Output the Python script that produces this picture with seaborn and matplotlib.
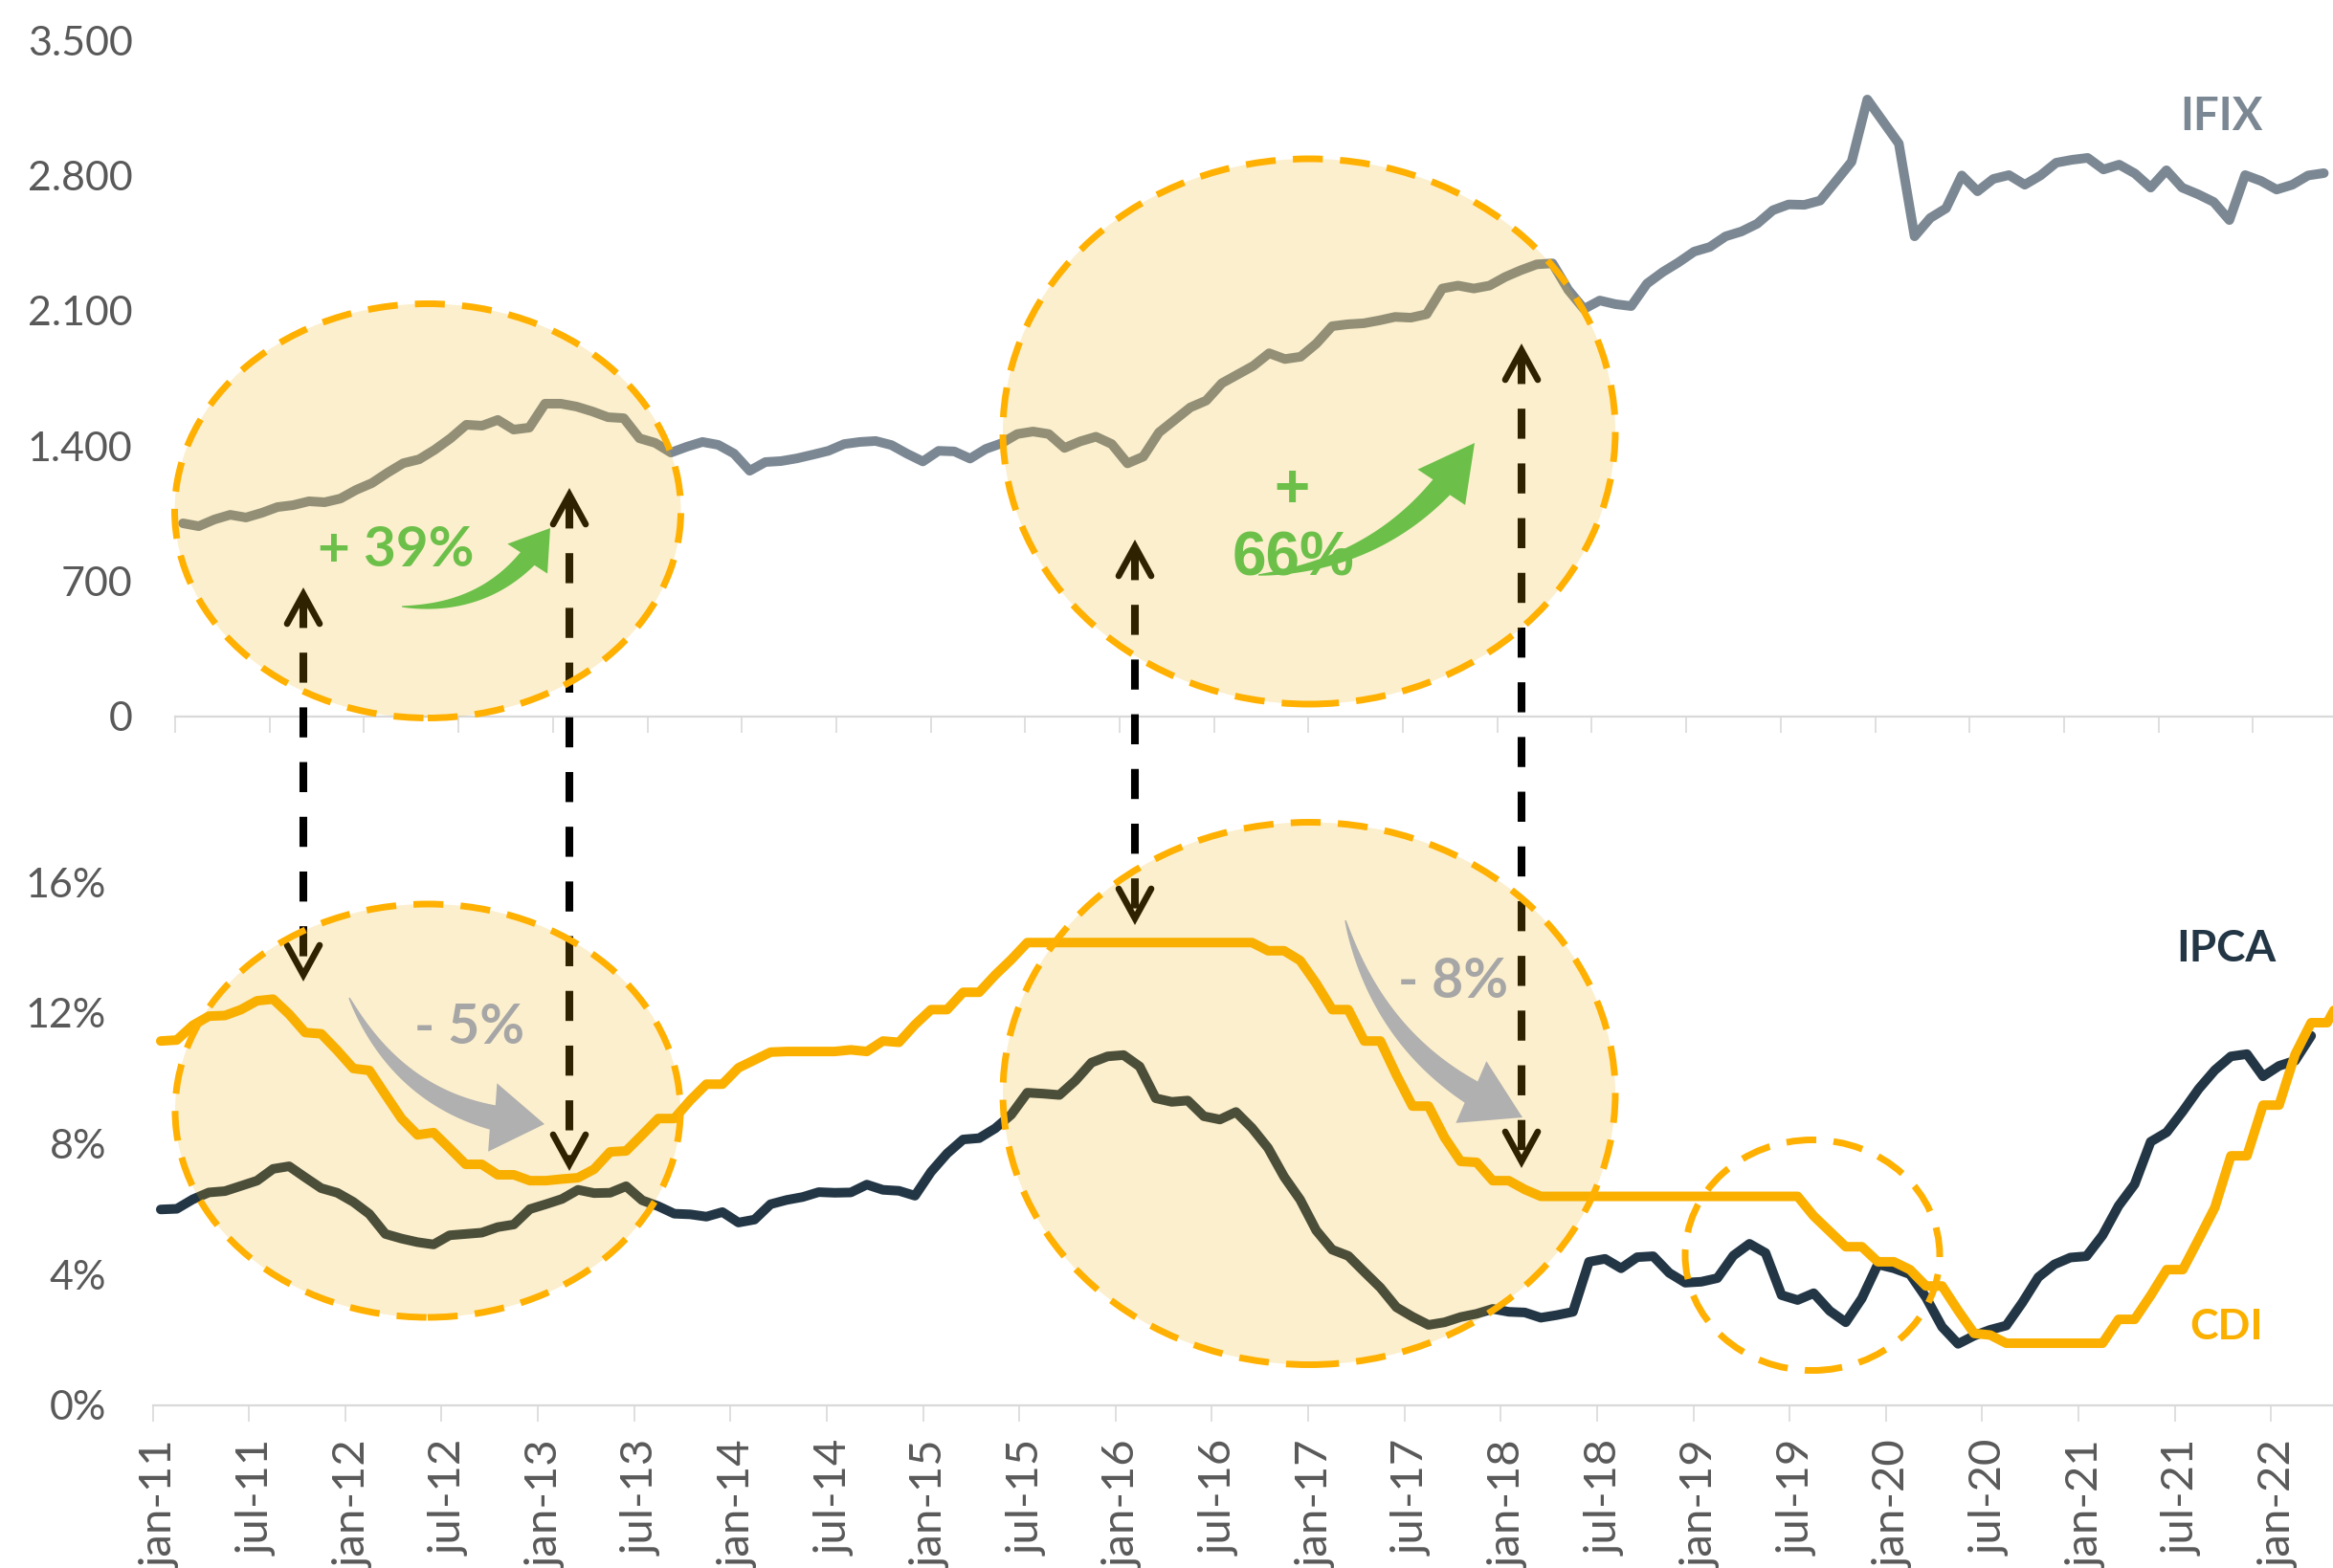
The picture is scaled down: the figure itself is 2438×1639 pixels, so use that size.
import numpy as np
import pandas as pd
import matplotlib
matplotlib.use('Agg')
import matplotlib.pyplot as plt
import seaborn as sns
from matplotlib.patches import Ellipse, Polygon
from matplotlib.lines import Line2D

W, H = 2438, 1639

# ---------------- data (monthly, jan-11 ...) ----------------
ifix = [1000, 985, 1020, 1044, 1030, 1054, 1084, 1094, 1114, 1109, 1128, 1173,
        1208, 1262, 1311, 1331, 1381, 1440, 1510, 1505, 1535, 1485, 1495, 1619,
        1619, 1604, 1579, 1549, 1544, 1440, 1416, 1366, 1396, 1421, 1406, 1361,
        1272, 1317, 1322, 1336, 1355, 1375, 1410, 1421, 1426, 1405, 1360, 1320,
        1375, 1372, 1335, 1385, 1414, 1462, 1475, 1462, 1390, 1424, 1448, 1410,
        1310, 1345, 1470, 1535, 1600, 1635, 1725, 1770, 1815, 1880, 1850, 1862,
        1930, 2020, 2030, 2035, 2050, 2068, 2064, 2082, 2215, 2230, 2215, 2230,
        2275, 2310, 2340, 2345, 2208, 2109, 2153, 2134, 2124, 2240, 2300, 2350,
        2406, 2430, 2485, 2510, 2550, 2620, 2650, 2648, 2670, 2770, 2871, 3193,
        3079, 2965, 2485, 2580, 2630, 2800, 2718, 2782, 2802, 2752, 2800, 2866,
        2881, 2891, 2831, 2856, 2810, 2737, 2827, 2737, 2703, 2663, 2569, 2802,
        2772, 2727, 2752, 2800, 2812]

ipca = [5.99, 6.01, 6.30, 6.51, 6.55, 6.71, 6.87, 7.23, 7.31, 6.97, 6.64, 6.50,
        6.22, 5.85, 5.24, 5.10, 4.99, 4.92, 5.20, 5.24, 5.28, 5.45, 5.53, 6.00,
        6.15, 6.31, 6.59, 6.49, 6.50, 6.70, 6.27, 6.09, 5.86, 5.84, 5.77, 5.91,
        5.59, 5.68, 6.15, 6.28, 6.37, 6.52, 6.50, 6.51, 6.75, 6.59, 6.56, 6.41,
        7.14, 7.70, 8.13, 8.17, 8.47, 8.89, 9.56, 9.53, 9.49, 9.93, 10.48, 10.67,
        10.71, 10.36, 9.39, 9.28, 9.32, 8.84, 8.74, 8.97, 8.48, 7.87, 6.99, 6.29,
        5.35, 4.76, 4.57, 4.08, 3.60, 3.00, 2.71, 2.46, 2.54, 2.70, 2.80, 2.95,
        2.86, 2.84, 2.68, 2.76, 2.86, 4.39, 4.48, 4.19, 4.53, 4.56, 4.05, 3.75,
        3.78, 3.89, 4.58, 4.94, 4.66, 3.37, 3.22, 3.43, 2.89, 2.54, 3.27, 4.31,
        4.19, 4.01, 3.30, 2.40, 1.88, 2.13, 2.31, 2.44, 3.14, 3.92, 4.31, 4.52,
        4.56, 5.20, 6.10, 6.76, 8.06, 8.35, 8.99, 9.68, 10.25, 10.67, 10.74, 10.06,
        10.38, 10.54, 11.30]

cdi = [11.14, 11.17, 11.62, 11.90, 11.92, 12.10, 12.37, 12.42, 11.96, 11.40, 11.36, 10.85,
       10.30, 10.24, 9.50, 8.77, 8.27, 8.34, 7.86, 7.37, 7.37, 7.05, 7.05, 6.87,
       6.87, 6.92, 6.96, 7.22, 7.75, 7.78, 8.27, 8.77, 8.77, 9.33, 9.82, 9.82,
       10.32, 10.56, 10.80, 10.82, 10.82, 10.82, 10.82, 10.87, 10.82, 11.14, 11.10, 11.64,
       12.10, 12.10, 12.63, 12.63, 13.16, 13.63, 14.15, 14.15, 14.15, 14.15, 14.15, 14.15,
       14.15, 14.15, 14.15, 14.15, 14.15, 14.15, 14.15, 14.15, 14.15, 13.90, 13.90, 13.60,
       12.90, 12.10, 12.10, 11.14, 11.14, 10.10, 9.15, 9.15, 8.19, 7.46, 7.43, 6.87,
       6.87, 6.60, 6.39, 6.39, 6.39, 6.39, 6.39, 6.39, 6.39, 6.39, 6.39, 6.39,
       6.39, 6.39, 6.39, 6.39, 6.39, 6.39, 6.39, 5.79, 5.32, 4.85, 4.85, 4.39,
       4.39, 4.15, 3.65, 3.65, 2.90, 2.20, 2.15, 1.90, 1.90, 1.90, 1.90, 1.90,
       1.90, 1.90, 2.63, 2.63, 3.36, 4.15, 4.15, 5.09, 6.05, 7.63, 7.63, 9.18,
       9.18, 10.73, 11.70, 11.70, 12.60]

month_labels = ['jan-11', 'jul-11', 'jan-12', 'jul-12', 'jan-13', 'jul-13', 'jan-14',
                'jul-14', 'jan-15', 'jul-15', 'jan-16', 'jul-16', 'jan-17', 'jul-17',
                'jan-18', 'jul-18', 'jan-19', 'jul-19', 'jan-20', 'jul-20', 'jan-21',
                'jul-21', 'jan-22']
top_ticks = [0, 700, 1400, 2100, 2800, 3500]
top_tick_labels = ['0', '700', '1.400', '2.100', '2.800', '3.500']
bot_ticks = [0, 4, 8, 12, 16]
bot_tick_labels = ['0%', '4%', '8%', '12%', '16%']

# ---------------- style ----------------
C_IFIX = '#7B8893'
C_IPCA = '#233645'
C_CDI = '#FBB000'
C_TICK = '#595959'
C_AXIS = '#D9D9D9'
C_GREEN = '#6CC04A'
C_GRAY = '#B0B0B0'

sns.set_theme(style='white')
plt.rcParams['font.family'] = ['Lato', 'DejaVu Sans']

fig = plt.figure(figsize=(W / 100, H / 100), dpi=100)
ax1 = fig.add_axes([183 / W, 1 - 749 / H, 137 * 16.45 / W, 707 / H])
ax2 = fig.add_axes([159.6 / W, 1 - 1469 / H, 137 * 16.77 / W, 547 / H])

df_top = pd.DataFrame({'m': np.arange(len(ifix)), 'v': ifix})
df_ipca = pd.DataFrame({'m': np.arange(len(ipca)), 'v': ipca})
df_cdi = pd.DataFrame({'m': np.arange(len(cdi)), 'v': cdi})

lw = 7.2
kw = dict(linewidth=lw, solid_capstyle='round', solid_joinstyle='round', legend=False)
sns.lineplot(data=df_top, x='m', y='v', ax=ax1, color=C_IFIX, **kw)
sns.lineplot(data=df_ipca, x='m', y='v', ax=ax2, color=C_IPCA, **kw)
sns.lineplot(data=df_cdi, x='m', y='v', ax=ax2, color=C_CDI, **kw)

ax1.set_ylim(0, 3500)
ax2.set_ylim(0, 16)
for ax in (ax1, ax2):
    ax.set_facecolor('none')
    ax.set_xlim(-0.5, 136.5)
    ax.set_xlabel('')
    ax.set_ylabel('')
    ax.grid(False)
    for s in ('top', 'left', 'right'):
        ax.spines[s].set_visible(False)
    ax.spines['bottom'].set_color(C_AXIS)
    ax.spines['bottom'].set_linewidth(1.6)
    ax.set_xticks(np.arange(-0.5, 137, 6))
    ax.set_xticklabels([])
    ax.tick_params(axis='x', which='major', bottom=True, length=12, width=1.2,
                   color=C_AXIS, direction='out')
    ax.tick_params(axis='y', left=False, length=0, labelsize=31, labelcolor=C_TICK)

ax1.set_yticks(top_ticks, top_tick_labels)
ax1.tick_params(axis='y', pad=32)
ax2.set_yticks(bot_ticks, bot_tick_labels)
ax2.tick_params(axis='y', pad=35)
ax2.set_xticks(np.arange(0, 137, 6), month_labels, minor=True)
ax2.tick_params(axis='x', which='minor', bottom=True, length=0, pad=26,
                labelsize=34, labelcolor=C_TICK, labelrotation=90, labelbottom=True)


def fx(px):
    return px / W


def fy(py):
    return 1 - py / H


# ---------------- dashed double arrows ----------------
for x, ytop, ybot in [(317, 621, 1019), (595, 517, 1217), (1186, 571, 960), (1590, 366, 1214)]:
    fig.add_artist(Line2D([fx(x), fx(x)], [fy(ytop + 4), fy(ybot - 4)], color='black',
                          lw=5.8, dashes=(3.9, 3.2), zorder=2, transform=fig.transFigure))
    for yt, sgn in ((ytop, 1), (ybot, -1)):
        fig.add_artist(Line2D([fx(x - 17), fx(x), fx(x + 17)],
                              [fy(yt + sgn * 31), fy(yt), fy(yt + sgn * 31)],
                              color='black', lw=4.8, solid_capstyle='round',
                              solid_joinstyle='miter', zorder=2, transform=fig.transFigure))

# ---------------- highlight ellipses ----------------
fill = (240 / 255, 175 / 255, 5 / 255, 0.2)
for cx, cy, w, h, filled in [(447, 534, 529, 433, True), (1368, 451, 640, 570, True),
                             (447, 1161, 528, 432, True), (1368, 1143, 640, 567, True),
                             (1894, 1312, 266, 241, False)]:
    e = Ellipse((fx(cx), fy(cy)), w / W, h / H, transform=fig.transFigure,
                facecolor=fill if filled else 'none', edgecolor='#FFB000',
                lw=5.0, linestyle=(0, (4.5, 2.6)), zorder=3)
    fig.add_artist(e)


# ---------------- curved block arrows ----------------
def curved_arrow(tail, tip, rad, tail_w, head_len, head_w, color, alpha=1.0):
    p0 = np.array([tail[0], H - tail[1]], float)
    p2 = np.array([tip[0], H - tip[1]], float)
    d = p2 - p0
    p1 = (p0 + p2) / 2 + rad * np.array([d[1], -d[0]])
    t = np.linspace(0, 1, 400)
    B = ((1 - t) ** 2)[:, None] * p0 + (2 * (1 - t) * t)[:, None] * p1 + (t ** 2)[:, None] * p2
    dist = np.hypot(B[:, 0] - p2[0], B[:, 1] - p2[1])
    k = int(np.argmax(dist <= head_len))
    shaft = B[:k + 1]
    tan = np.gradient(shaft, axis=0)
    tan /= np.hypot(tan[:, 0], tan[:, 1])[:, None]
    nrm = np.column_stack([-tan[:, 1], tan[:, 0]])
    s = np.linspace(0, 1, len(shaft))
    wv = tail_w * (0.05 + 0.95 * s ** 0.8) / 2
    left = shaft + nrm * wv[:, None]
    right = shaft - nrm * wv[:, None]
    base = shaft[-1]
    u = (p2 - base) / np.linalg.norm(p2 - base)
    ne = np.array([-u[1], u[0]])
    head = np.array([base + ne * head_w / 2, p2, base - ne * head_w / 2])
    pts = np.vstack([left, head, right[::-1]])
    pts = np.column_stack([pts[:, 0] / W, pts[:, 1] / H])
    fig.add_artist(Polygon(pts, closed=True, transform=fig.transFigure, facecolor=color,
                           edgecolor='none', alpha=alpha, zorder=4))


curved_arrow((420, 634), (575, 552), 0.3, 20, 40, 52, C_GREEN)
curved_arrow((1315, 601), (1541, 463), 0.25, 24, 58, 62, C_GREEN)
curved_arrow((365, 1043), (569, 1175), 0.3, 26, 55, 72, C_GRAY)
curved_arrow((1406, 962), (1591, 1168), 0.25, 26, 60, 72, C_GRAY)

# ---------------- texts ----------------
def ftext(x, y, s, size, color, family=None, va='baseline'):
    fig.text(fx(x), fy(y), s, ha='center', va=va, fontsize=size, fontweight='bold',
             color=color, zorder=5, family=family if family else ['Lato', 'DejaVu Sans'])


ftext(2321, 136, 'IFIX', 34, C_IFIX)
ftext(2326, 1005, 'IPCA', 33, C_IPCA)
ftext(2327, 1400, 'CDI', 32, C_CDI)
ftext(414, 592, '+ 39%', 42, C_GREEN)
ftext(1350, 530, '+', 46, C_GREEN, family=['Liberation Sans', 'DejaVu Sans'])
ftext(1351, 601, '66%', 46, C_GREEN, family=['Liberation Sans', 'DejaVu Sans'])
ftext(491, 1091, '- 5%', 41, '#A6A6A6')
ftext(1519, 1043, '- 8%', 41, '#A6A6A6')

fig.savefig('out.png', dpi=100)
